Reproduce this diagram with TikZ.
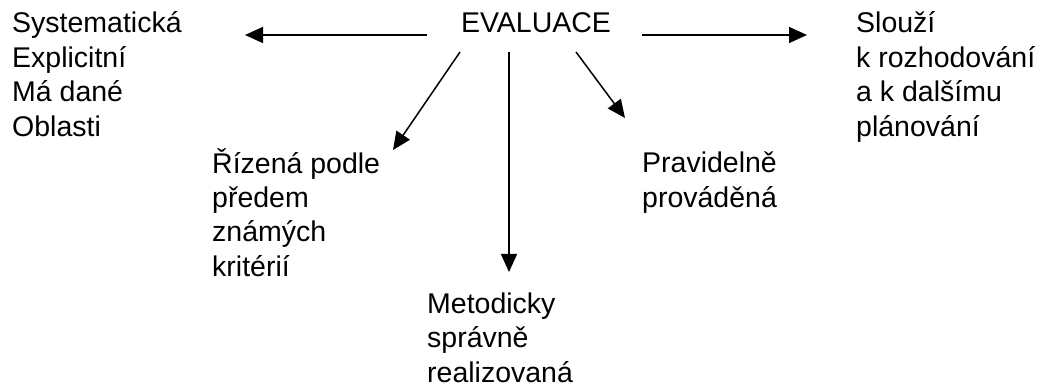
\documentclass[tikz,border=0pt]{standalone}
\usepackage{fontspec}
\setmainfont{Liberation Sans}
\usetikzlibrary{arrows.meta}
\begin{document}
\begin{tikzpicture}[x=1pt,y=-1pt,
  lbl/.style={inner sep=0pt, anchor=base west, align=left, font=\fontsize{28.5}{34.5}\selectfont},
  arr/.style={line width=1.5pt, -{Triangle[length=18pt,width=16pt]}}]
\useasboundingbox (0,0) rectangle (1039,387);
% base anchor = baseline of the last line
\node[lbl, anchor=base] (eval) at (536,33) {EVALUACE};
\node[lbl] (left) at (12,136.5) {Systematická\\Explicitní\\Má dané\\Oblasti};
\node[lbl] (right) at (856,136.5) {Slouží\\k rozhodování\\a k dalšímu\\plánování};
\node[lbl] (rizena) at (212,276.5) {Řízená podle\\předem\\známých\\kritérií};
\node[lbl] (prav) at (642,207.5) {Pravidelně\\prováděná};
\node[lbl] (metod) at (427,382) {Metodicky\\správně\\realizovaná};
\coordinate (s1) at (427,35);  \coordinate (e1) at (245,35);
\coordinate (s2) at (642,35);  \coordinate (e2) at (807,35);
\coordinate (s3) at (460,52);  \coordinate (e3) at (393,150);
\coordinate (s4) at (509,52);  \coordinate (e4) at (509,272);
\coordinate (s5) at (576,52);  \coordinate (e5) at (625,118);
\draw[arr] (s1) -- (e1);
\draw[arr] (s2) -- (e2);
\draw[arr] (s3) -- (e3);
\draw[arr] (s4) -- (e4);
\draw[arr] (s5) -- (e5);
\end{tikzpicture}
\end{document}
